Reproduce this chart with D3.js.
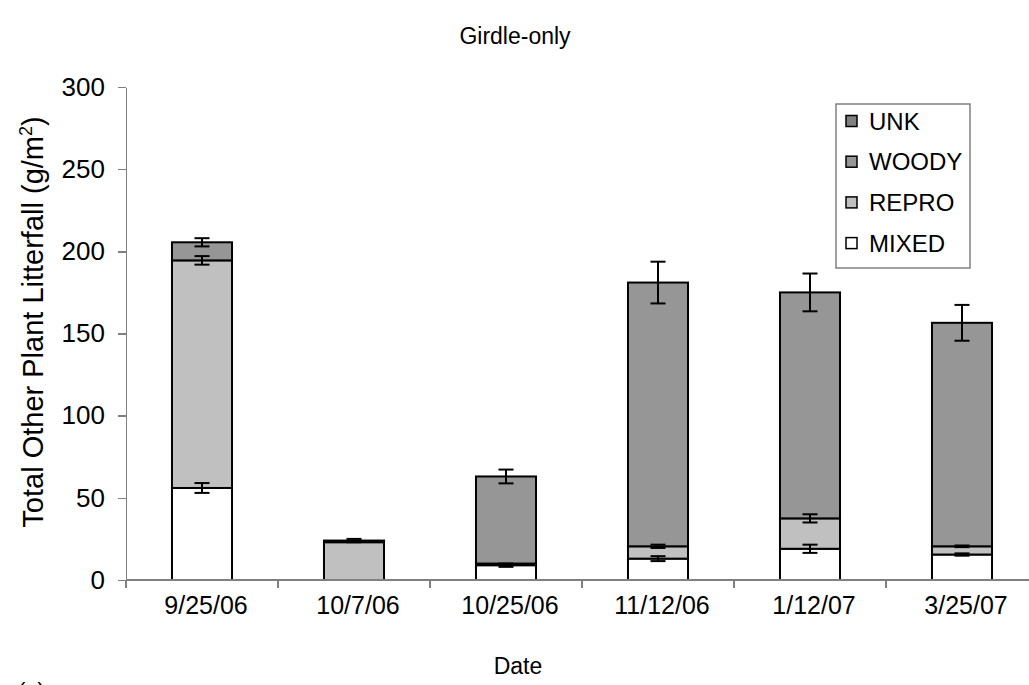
<!DOCTYPE html>
<meta charset="utf-8">
<style>
body { margin: 0; background: #fff; }
svg { font-family: "Liberation Sans", Arial, sans-serif; }
.axis path, .axis line { fill: none; stroke: #808080; stroke-width: 1.5; shape-rendering: crispEdges; }
.axis text { fill: #000; font-size: 25px; }
.yaxis text { font-size: 26px; }
.seg { stroke: #000; stroke-width: 2; }
.err { stroke: #000; stroke-width: 2; fill: none; }
</style>
<body>
<script src="https://cdn.jsdelivr.net/npm/d3@7"></script>
<script>
// data
var dates = ["9/25/06", "10/7/06", "10/25/06", "11/12/06", "1/12/07", "3/25/07"];
var keys = ["mixed", "repro", "woody", "unk"];
var labels = {mixed: "MIXED", repro: "REPRO", woody: "WOODY", unk: "UNK"};
var mixed = [56, 0, 9, 13, 19, 15.5];
var repro = [138.5, 23, 1, 7.5, 18.5, 5];
var woody = [11, 1, 53, 160.5, 137.5, 136];
var unk = [0, 0, 0, 0, 0, 0];
// standard errors (drawn at the top of each segment)
var mixedErr = [3, 0, 1, 1.5, 2.5, 0.7];
var reproErr = [2.6, 0, 0, 1, 2.5, 0.5];
var woodyErr = [2.5, 1, 4.2, 12.7, 11.5, 10.9];
var unkErr = [0, 0, 0, 0, 0, 0];
var yTicks = [0, 50, 100, 150, 200, 250, 300];

var colors = {mixed: "#ffffff", repro: "#c0c0c0", woody: "#969696", unk: "#808080"};
var errs = {mixed: mixedErr, repro: reproErr, woody: woodyErr, unk: unkErr};

var table = dates.map(function(d, i) {
  return {date: d, mixed: mixed[i], repro: repro[i], woody: woody[i], unk: unk[i]};
});

var width = 1029, height = 685;
var plotLeft = 126, plotTop = 87, plotBottom = 580;

var svg = d3.select("body").append("svg")
    .attr("width", width)
    .attr("height", height);

var x = d3.scaleBand()
    .domain(dates)
    .range([plotLeft, plotLeft + 6 * 152])
    .paddingInner(0.605)
    .paddingOuter(0.3025);
var xTick = d3.scaleBand().domain(dates).range([plotLeft, plotLeft + 6 * 152]);
var y = d3.scaleLinear().domain([0, 300]).range([plotBottom, plotTop]);

var series = d3.stack().keys(keys)(table);

// stacked bars
svg.selectAll(".layer")
    .data(series)
  .enter().append("g")
    .attr("class", "layer")
    .attr("fill", function(s) { return colors[s.key]; })
  .selectAll("rect")
    .data(function(s) { return s.filter(function(d) { return d[1] - d[0] > 0; }); })
  .enter().append("rect")
    .attr("class", "seg")
    .attr("x", function(d) { return x(d.data.date); })
    .attr("width", x.bandwidth())
    .attr("y", function(d) { return y(d[1]); })
    .attr("height", function(d) { return y(d[0]) - y(d[1]); });

// error bars
var cap = 7.5;
series.forEach(function(s) {
  s.forEach(function(d, i) {
    var e = errs[s.key][i];
    if (!e || d[1] - d[0] <= 0) return;
    var cx = x(d.data.date) + x.bandwidth() / 2;
    var g = svg.append("g").attr("class", "err");
    g.append("line").attr("x1", cx).attr("x2", cx).attr("y1", y(d[1] + e)).attr("y2", y(d[1] - e));
    g.append("line").attr("x1", cx - cap).attr("x2", cx + cap).attr("y1", y(d[1] + e)).attr("y2", y(d[1] + e));
    g.append("line").attr("x1", cx - cap).attr("x2", cx + cap).attr("y1", y(d[1] - e)).attr("y2", y(d[1] - e));
  });
});

// y axis
svg.append("g")
    .attr("class", "axis yaxis")
    .attr("transform", "translate(" + plotLeft + ",0)")
    .call(d3.axisLeft(y).tickValues(yTicks).tickSize(8).tickSizeOuter(0).tickPadding(13));

// x axis
var xAxis = svg.append("g")
    .attr("class", "axis")
    .attr("transform", "translate(0," + plotBottom + ")")
    .call(d3.axisBottom(xTick).tickSize(0).tickPadding(16));
xAxis.select(".domain").attr("d", "M" + plotLeft + ",0H" + width);
xAxis.selectAll(".tick text").attr("dx", 4);
xAxis.selectAll(".bnd")
    .data(dates)
  .enter().append("line")
    .attr("x1", function(d) { return xTick(d); })
    .attr("x2", function(d) { return xTick(d); })
    .attr("y1", 0).attr("y2", 8);

// title and axis titles
svg.append("text")
    .attr("x", 515).attr("y", 44)
    .attr("text-anchor", "middle")
    .style("font-size", "23px")
    .text("Girdle-only");

svg.append("text")
    .attr("x", 518).attr("y", 674)
    .attr("text-anchor", "middle")
    .style("font-size", "23px")
    .text("Date");

var yl = svg.append("text")
    .attr("transform", "translate(43,322) rotate(-90)")
    .attr("text-anchor", "middle")
    .style("font-size", "29px");
yl.append("tspan").text("Total Other Plant Litterfall (g/m");
yl.append("tspan").attr("dy", -11).style("font-size", "18px").text("2");
yl.append("tspan").attr("dy", 11).text(")");

// clipped panel letter at the bottom
svg.append("text")
    .attr("x", 18).attr("y", 698)
    .style("font-size", "22px")
    .text("(a)");

// legend
var legend = svg.append("g").attr("transform", "translate(836,104)");
legend.append("rect")
    .attr("width", 134).attr("height", 164)
    .attr("fill", "#fff").attr("stroke", "#808080").attr("stroke-width", 1.5);
var order = keys.slice().reverse();
var item = legend.selectAll(".item")
    .data(order)
  .enter().append("g")
    .attr("transform", function(d, i) { return "translate(10," + (17 + i * 40.7) + ")"; });
item.append("rect")
    .attr("width", 11).attr("height", 11).attr("y", -5.5)
    .attr("fill", function(d) { return colors[d]; })
    .attr("stroke", "#000").attr("stroke-width", 1.5);
item.append("text")
    .attr("x", 23).attr("dy", "0.36em")
    .style("font-size", "24px")
    .text(function(d) { return labels[d]; });
</script>
</body>
